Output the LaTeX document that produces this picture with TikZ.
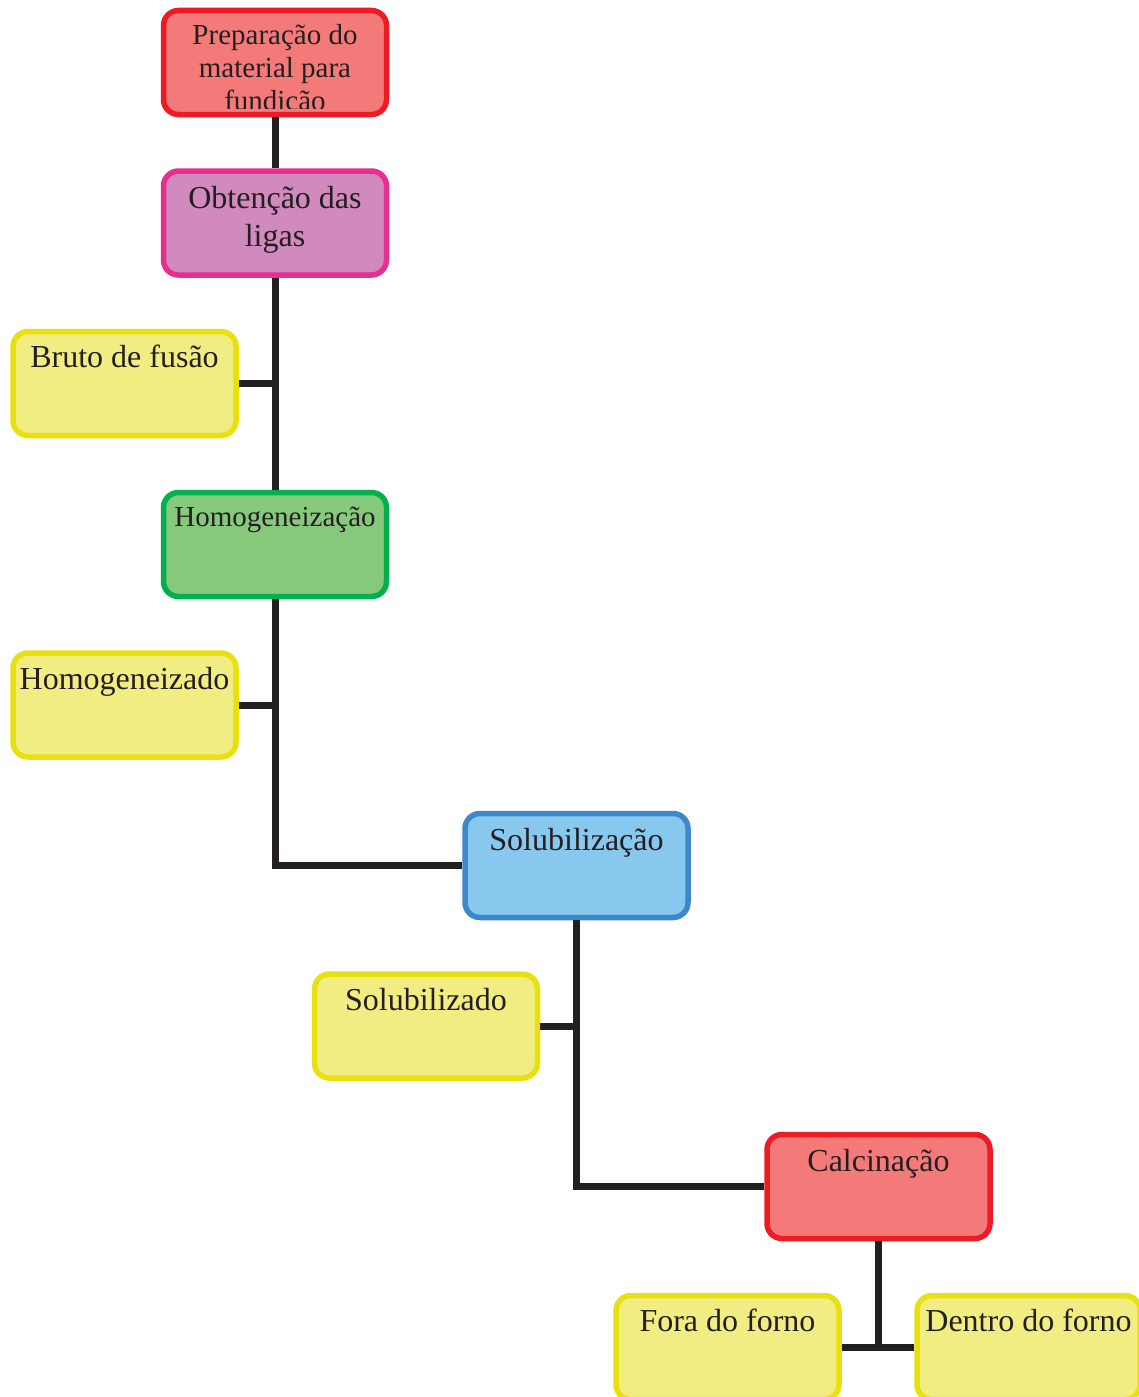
\documentclass[tikz,border=0pt]{standalone}
\usepackage{fontspec}
\setmainfont{Liberation Serif}
\usetikzlibrary{calc}
\definecolor{ink}{HTML}{231F20}
\definecolor{redB}{HTML}{ED1C24}\definecolor{redF}{HTML}{F47A7A}
\definecolor{magB}{HTML}{E5308E}\definecolor{magF}{HTML}{D08ABE}
\definecolor{yelB}{HTML}{E9E10F}\definecolor{yelF}{HTML}{F2ED82}
\definecolor{grnB}{HTML}{00B04F}\definecolor{grnF}{HTML}{86C97C}
\definecolor{bluB}{HTML}{3D88C9}\definecolor{bluF}{HTML}{88C8EE}
\tikzset{
  box/.style 2 args={draw=#1, fill=#2, line width=5.5pt, rounded corners=15pt,
    minimum width=223pt, minimum height=104pt, inner sep=0pt},
  txt/.style={text=ink, inner sep=0pt, align=center, anchor=base,
    font=\fontsize{32}{38}\selectfont},
  txtsm/.style={txt, font=\fontsize{29}{33}\selectfont},
  conn/.style={draw=ink, line width=7pt},
}
\begin{document}
\begin{tikzpicture}[x=1pt,y=-1pt]
\clip (0,0) rectangle (1139,1397);
\fill[white] (0,0) rectangle (1139,1397);
% boxes
\node[box={redB}{redF}] (prep) at (275,62.5) {};
\node[box={magB}{magF}] (obt) at (275,223) {};
\node[box={yelB}{yelF}] (bruto) at (124.5,383.5) {};
\node[box={grnB}{grnF}] (homog) at (275,544.5) {};
\node[box={yelB}{yelF}] (homogz) at (124.5,705) {};
\node[box={bluB}{bluF}] (solub) at (576.5,865.5) {};
\node[box={yelB}{yelF}] (solubz) at (426,1026) {};
\node[box={redB}{redF}] (calc) at (878.5,1186.5) {};
\node[box={yelB}{yelF}] (fora) at (727.5,1347.5) {};
\node[box={yelB}{yelF}] (dentro) at (1028.5,1347.5) {};
% texts (base anchor = baseline of the last line)
\begin{scope}
\clip (161,8) rectangle (389,108);
\node[txtsm] (prept) at ($(prep.north)+(0,37+66)$) {Preparação do\\material para\\fundição};
\end{scope}
\node[txt] (obtt) at ($(obt.north)+(0,40+38)$) {Obtenção das\\ligas};
\node[txt] (brutot) at ($(bruto.north)+(0,39)$) {Bruto de fusão};
\node[txtsm] (homogt) at ($(homog.north)+(0,37)$) {Homogeneização};
\node[txt] (homogzt) at ($(homogz.north)+(0,39)$) {Homogeneizado};
\node[txt] (solubt) at ($(solub.north)+(0,40)$) {Solubilização};
\node[txt] (solubzt) at ($(solubz.north)+(0,39)$) {Solubilizado};
\node[txt] (calct) at ($(calc.north)+(0,40)$) {Calcinação};
\node[txt] (forat) at ($(fora.north)+(0,39)$) {Fora do forno};
\node[txt] (dentrot) at ($(dentro.north)+(0,39)$) {Dentro do forno};
% connectors
\draw[conn] (prep.south) -- (obt.north);
\draw[conn] (obt.south) -- (homog.north);
\draw[conn] (bruto.east) -- (bruto.east -| obt.south);
\draw[conn] (homog.south) |- (solub.west);
\draw[conn] (homogz.east) -- (homogz.east -| homog.south);
\draw[conn] (solub.south) |- (calc.west);
\draw[conn] (solubz.east) -- (solubz.east -| solub.south);
\draw[conn] (calc.south) -- (calc.south |- fora.east);
\draw[conn] (fora.east) -- (dentro.west);
\end{tikzpicture}
\end{document}
